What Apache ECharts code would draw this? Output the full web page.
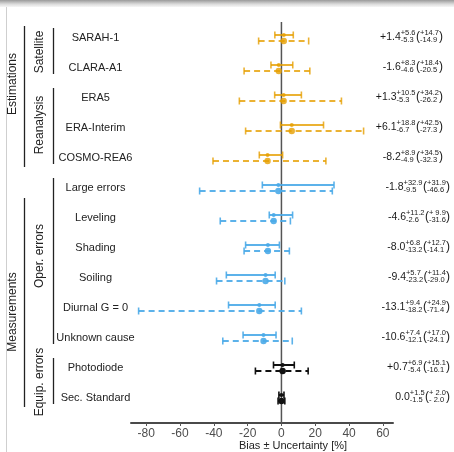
<!DOCTYPE html>
<html>
<head>
<meta charset="utf-8">
<script src="https://cdn.jsdelivr.net/npm/echarts@6/dist/echarts.min.js"></script>
<style>
  html, body { margin: 0; padding: 0; background: #fff; }
  #chart { width: 454px; height: 452px; }
</style>
</head>
<body>
<div id="chart"></div>
<script>
// Rows, top to bottom
const rowLabels = ['SARAH-1', 'CLARA-A1', 'ERA5', 'ERA-Interim', 'COSMO-REA6',
  'Large errors', 'Leveling', 'Shading', 'Soiling', 'Diurnal G = 0', 'Unknown cause',
  'Photodiode', 'Sec. Standard'];
const rowGroup = ['est', 'est', 'est', 'est', 'est',
  'oper', 'oper', 'oper', 'oper', 'oper', 'oper',
  'equip', 'equip'];
// Bias [%]
const bias = [1.4, -1.6, 1.3, 6.1, -8.2, -1.8, -4.6, -8.0, -9.4, -13.1, -10.6, 0.7, 0.0];
// Inner uncertainty (solid bars)
const uncPlus = [5.6, 8.3, 10.5, 18.8, 8.9, 32.9, 11.2, 6.8, 5.7, 9.4, 7.4, 6.9, 1.5];
const uncMinus = [5.3, 4.6, 5.3, 6.7, 4.9, 9.5, 2.6, 13.2, 23.2, 18.2, 12.1, 5.4, 1.5];
// Total uncertainty (dashed bars)
const totPlus = [14.7, 18.4, 34.2, 42.5, 34.5, 31.9, 9.9, 12.7, 11.4, 24.9, 17.0, 15.1, 2.0];
const totMinus = [14.9, 20.5, 26.2, 27.3, 32.3, 46.6, 31.6, 14.1, 29.0, 71.4, 24.1, 16.1, 2.0];
// X axis ticks
const xTicks = [-80, -60, -40, -20, 0, 20, 40, 60];
const axisTitle = 'Bias \u00b1 Uncertainty [%]';

// Bracket groups: [label, firstRow, lastRow]
const innerGroups = [['Satellite', 0, 1], ['Reanalysis', 2, 4], ['Oper. errors', 5, 10], ['Equip. errors', 11, 12]];
const outerGroups = [['Estimations', 0, 4], ['Measurements', 5, 12]];

const groupColor = { est: '#E69F00', oper: '#4AAAE8', equip: '#111111' };
const groupOpacity = { est: 0.8, oper: 0.9, equip: 1 };
const FONT = '"Liberation Sans", Arial, sans-serif';
const Y_MIN = -0.533, Y_MAX = 12.833;

const measureCtx = document.createElement('canvas').getContext('2d');
function textWidth(str, size) {
  measureCtx.font = size + 'px ' + FONT;
  return measureCtx.measureText(str).width;
}
function fmtMain(v) {
  if (v === 0) return '0.0';
  return (v > 0 ? '+' : '-') + Math.abs(v).toFixed(1);
}
function fmtPad(sign, v) {
  let s = v.toFixed(1);
  while (s.length < 4) s = ' ' + s;
  return sign + s;
}

const barData = bias.map((b, i) => [i, b, b - uncMinus[i], b + uncPlus[i], b - totMinus[i], b + totPlus[i]]);
const noteData = bias.map((b, i) => [0, i]);

const chart = echarts.init(document.getElementById('chart'), null, { renderer: 'canvas' });

function renderBars(params, api) {
  const i = api.value(0);
  const y = api.coord([0, i])[1];
  const xb = api.coord([api.value(1), i])[0];
  const xl1 = api.coord([api.value(2), i])[0];
  const xh1 = api.coord([api.value(3), i])[0];
  const xl2 = api.coord([api.value(4), i])[0];
  const xh2 = api.coord([api.value(5), i])[0];
  const g = rowGroup[i];
  const c = groupColor[g];
  const op = groupOpacity[g];
  const ys = y - 3, yd = y + 3, cap = 3.5;
  const solid = { stroke: c, lineWidth: 2, opacity: op };
  const dashed = { stroke: c, lineWidth: 2, lineDash: [6, 4], opacity: op };
  const capStyle = { stroke: c, lineWidth: 1.6, opacity: op };
  return {
    type: 'group',
    children: [
      { type: 'line', shape: { x1: xl1, y1: ys, x2: xh1, y2: ys }, style: solid },
      { type: 'line', shape: { x1: xl1, y1: ys - cap, x2: xl1, y2: ys + cap }, style: capStyle },
      { type: 'line', shape: { x1: xh1, y1: ys - cap, x2: xh1, y2: ys + cap }, style: capStyle },
      { type: 'line', shape: { x1: xl2, y1: yd, x2: xh2, y2: yd }, style: dashed },
      { type: 'line', shape: { x1: xl2, y1: yd - cap, x2: xl2, y2: yd + cap }, style: capStyle },
      { type: 'line', shape: { x1: xh2, y1: yd - cap, x2: xh2, y2: yd + cap }, style: capStyle },
      { type: 'circle', shape: { cx: xb, cy: ys, r: 2 }, style: { fill: c, opacity: op } },
      { type: 'circle', shape: { cx: xb, cy: yd, r: 3.2 }, style: { fill: c, opacity: op } }
    ]
  };
}

// Vertical reference line at zero bias
function renderZero(params, api) {
  const p1 = api.coord([api.value(0), Y_MIN]);
  const p2 = api.coord([api.value(0), Y_MAX]);
  return {
    type: 'line',
    shape: { x1: p1[0], y1: p1[1], x2: p2[0], y2: p2[1] },
    style: { stroke: '#555', lineWidth: 1.5 }
  };
}

function renderNotes(params, api) {
  const i = api.value(1);
  const y = api.coord([0, i])[1];
  const right = rowGroup[i] === 'est' ? 443 : 450;
  const mainTxt = fmtMain(bias[i]);
  const supTxt = '+' + uncPlus[i].toFixed(1);
  const subTxt = '-' + uncMinus[i].toFixed(1);
  const inSup = fmtPad('+', totPlus[i]);
  const inSub = fmtPad('-', totMinus[i]);
  const mainSize = 10.5, smallSize = 7.5, parSize = 12;
  const wcp = textWidth(')', parSize);
  const wIn = Math.max(textWidth(inSup, smallSize), textWidth(inSub, smallSize));
  const wop = textWidth('(', parSize);
  const wSS = Math.max(textWidth(supTxt, smallSize), textWidth(subTxt, smallSize));
  const xIn = right - wcp - wIn;
  const xOp = xIn;
  const xSS = xOp - wop - wSS - 0.5;
  const fill = '#1a1a1a';
  const t = (text, x, yy, size, align) => ({
    type: 'text', x: x, y: yy,
    style: { text: text, fill: fill, font: size + 'px ' + FONT, align: align, verticalAlign: 'middle' }
  });
  return {
    type: 'group',
    children: [
      t(mainTxt, xSS, y - 1, mainSize, 'right'),
      t(supTxt, xSS, y - 5, smallSize, 'left'),
      t(subTxt, xSS, y + 2, smallSize, 'left'),
      t('(', xOp, y - 1.5, parSize, 'right'),
      t(inSup, xIn, y - 5, smallSize, 'left'),
      t(inSub, xIn, y + 2, smallSize, 'left'),
      t(')', right, y - 1.5, parSize, 'right')
    ]
  };
}

const option = {
  animation: false,
  backgroundColor: '#ffffff',
  grid: { left: 131, right: 61, top: 22, bottom: 29 },
  xAxis: {
    type: 'value',
    min: -89,
    max: 66,
    axisLine: { show: true, onZero: false, lineStyle: { color: '#4a4a4a', width: 2 } },
    axisTick: { show: true, length: 3, customValues: xTicks, lineStyle: { color: '#555', width: 1 } },
    axisLabel: { customValues: xTicks, margin: 5, color: '#4d4d4d', fontSize: 12, fontFamily: FONT },
    splitLine: { show: false }
  },
  yAxis: {
    type: 'value',
    inverse: true,
    min: Y_MIN,
    max: Y_MAX,
    axisLine: { show: false },
    axisTick: { show: false },
    splitLine: { show: false },
    axisLabel: {
      customValues: rowLabels.map((_, i) => i),
      formatter: (v) => rowLabels[Math.round(v)],
      align: 'center',
      margin: 35.5,
      color: '#222',
      fontSize: 11,
      fontFamily: FONT
    }
  },
  series: [
    {
      type: 'custom',
      renderItem: renderZero,
      data: [[0, 0]],
      encode: { x: 0, y: 1 },
      silent: true,
      z: 1
    },
    {
      type: 'custom',
      renderItem: renderBars,
      data: barData,
      encode: { x: [1, 2, 3, 4, 5], y: 0 },
      silent: true,
      z: 3
    },
    {
      type: 'custom',
      renderItem: renderNotes,
      data: noteData,
      encode: { x: 0, y: 1 },
      clip: false,
      silent: true
    }
  ]
};
chart.setOption(option);

// Frame, group brackets and titles
const rowY = (i) => chart.convertToPixel({ gridIndex: 0 }, [0, i])[1];
const graphics = [
  {
    type: 'rect', left: 0, top: 0, shape: { x: 0, y: 0, width: 454, height: 7 },
    style: { fill: new echarts.graphic.LinearGradient(0, 0, 0, 1, [
      { offset: 0, color: '#9a9a9a' }, { offset: 0.6, color: '#dcdcdc' }, { offset: 1, color: '#f6f6f6' }]) }
  },
  { type: 'line', shape: { x1: 6.5, y1: 7, x2: 6.5, y2: 452 }, style: { stroke: '#cfcfcf', lineWidth: 1 } },
  {
    type: 'text', x: 293, y: 446,
    style: { text: axisTitle, font: '11px ' + FONT, fill: '#222', align: 'center', verticalAlign: 'middle' }
  }
];
const bracketStroke = { stroke: '#222', lineWidth: 1.3 };
innerGroups.forEach(([name, a, b]) => {
  const y1 = rowY(a) - 10, y2 = rowY(b) + 6;
  graphics.push({ type: 'line', shape: { x1: 53.5, y1: y1, x2: 53.5, y2: y2 }, style: bracketStroke });
});
outerGroups.forEach(([name, a, b], k) => {
  const y1 = k === 0 ? rowY(a) - 12 : rowY(a) + 10;
  const y2 = rowY(b) + 9;
  graphics.push({ type: 'line', shape: { x1: 24.5, y1: y1, x2: 24.5, y2: y2 }, style: bracketStroke });
});
// Rotated group titles
const titlePos = {
  'Estimations': [13, 84], 'Measurements': [12.5, 312],
  'Satellite': [39.5, 52], 'Reanalysis': [39.5, 125],
  'Oper. errors': [40, 256], 'Equip. errors': [40, 382]
};
outerGroups.concat(innerGroups).forEach(([name]) => {
  const p = titlePos[name];
  graphics.push({
    type: 'text', x: p[0], y: p[1], rotation: Math.PI / 2,
    style: { text: name, font: '12px ' + FONT, fill: '#222', align: 'center', verticalAlign: 'middle' }
  });
});
chart.setOption({ graphic: graphics });
</script>
</body>
</html>
